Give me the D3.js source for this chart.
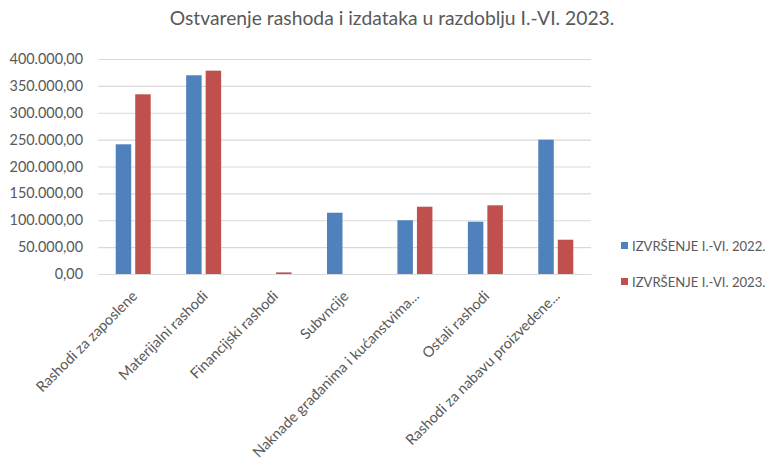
<!DOCTYPE html>
<html><head><meta charset="utf-8">
<script src="https://cdn.jsdelivr.net/npm/d3@7"></script>
<style>body{margin:0;background:#fff;} text{font-family:Lato, "Open Sans", sans-serif;}</style>
</head><body>
<svg id="chart" width="773" height="474"></svg>
<script>
const categories = ["Rashodi za zaposlene","Materijalni rashodi","Financijski rashodi","Subvncije","Naknade građanima i kućanstvima...","Ostali rashodi","Rashodi za nabavu proizvedene..."];
const series = ["IZVRŠENJE I.-VI. 2022.","IZVRŠENJE I.-VI. 2023."];
const values2022 = [241300,369700,0,114000,100000,97300,249900];
const values2023 = [334300,378300,3000,0,125200,127800,63800];
const yTicks = [0,50000,100000,150000,200000,250000,300000,350000,400000];
const colors = ["#4f81bd","#c0504d"];
const title = "Ostvarenje rashoda i izdataka u razdoblju I.-VI. 2023.";

const svg = d3.select("#chart");
const pL = 98, pR = 591, pT = 59, pB = 274;
const x0 = d3.scaleBand().domain(categories).range([pL,pR]).padding(0);
const y = d3.scaleLinear().domain([0,400000]).range([pB,pT]);
const fmt = v => { const s = d3.format(",.2f")(v); return s.replace(/,/g,"#").replace(/\./g,",").replace(/#/g,"."); };

svg.append("text").attr("x",392).attr("y",25).attr("text-anchor","middle")
  .attr("font-size",19.3).attr("fill","#595959").text(title);

const yAxis = d3.axisLeft(y).tickValues(yTicks).tickSize(-(pR-pL)).tickFormat(fmt);
const gy = svg.append("g").attr("transform",`translate(${pL},0)`).call(yAxis);
gy.select(".domain").remove();
gy.selectAll(".tick line").attr("stroke","#d9d9d9").attr("stroke-width",1.2);
gy.selectAll(".tick text").attr("x",-15).attr("font-size",14.4).attr("fill","#595959");

const bw = x0.bandwidth()*0.22, gap = x0.bandwidth()*0.057;
const data = [values2022, values2023];
data.forEach((vals,si)=>{
  svg.append("g").selectAll("rect").data(categories).join("rect")
    .attr("x", (c)=> x0(c) + x0.bandwidth()/2 + (si===0 ? -gap/2-bw : gap/2))
    .attr("y", (c,i)=> y(vals[i]))
    .attr("width", bw)
    .attr("height", (c,i)=> y(0)-y(vals[i]))
    .attr("fill", colors[si]);
});

const xAxis = d3.axisBottom(x0).tickSize(0);
const gx = svg.append("g").attr("transform",`translate(0,${pB})`).call(xAxis);
gx.select(".domain").attr("stroke","#d9d9d9").attr("stroke-width",1.2);
gx.selectAll(".tick text").attr("font-size",14.6).attr("fill","#595959")
  .attr("text-anchor","end").attr("dy",0).attr("y",0)
  .attr("transform","translate(5,23) rotate(-45)");

const lg = svg.append("g");
series.forEach((s,i)=>{
  const yy = 246 + i*36;
  lg.append("rect").attr("x",621).attr("y",yy-4).attr("width",7).attr("height",7).attr("fill",colors[i]);
  lg.append("text").attr("x",632).attr("y",yy+4.5).attr("font-size",13.1).attr("fill","#595959").text(s);
});
</script>
</body></html>
